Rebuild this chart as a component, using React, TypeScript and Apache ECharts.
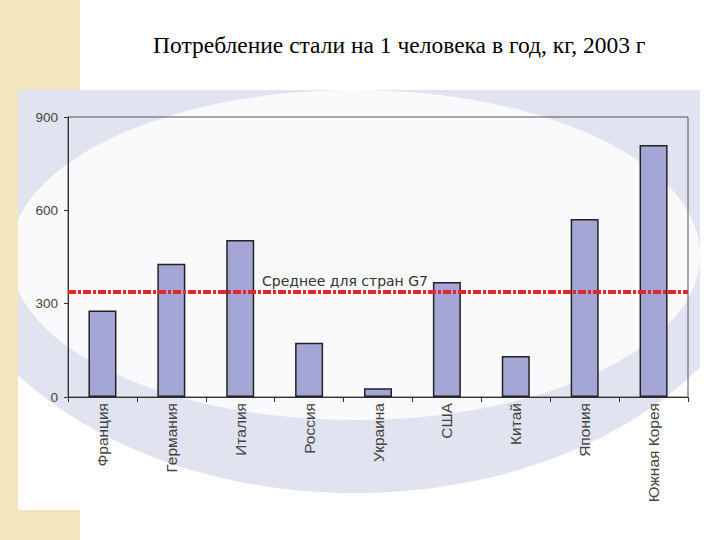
import React, { useEffect, useRef } from "react";
import * as echarts from "echarts";

const categories = ["Франция", "Германия", "Италия", "Россия", "Украина", "США", "Китай", "Япония", "Южная Корея"];
const values = [278, 428, 505, 174, 28, 370, 132, 572, 810];
const averageG7 = 338;
const averageLabel = "Среднее для стран G7";
const yTicks = { min: 0, max: 900, interval: 300 };
const titleText = "Потребление стали на 1 человека в год, кг, 2003 г";

export default function App() {
  const ref = useRef<HTMLDivElement>(null);
  useEffect(() => {
    if (!ref.current) return;
    const chart = echarts.init(ref.current, null, { renderer: "svg" });
    const lav = "#e1e3f1";
    const beige = "#f3e5bd";
    chart.setOption({
      animation: false,
      backgroundColor: "#ffffff",
      title: {
        text: titleText,
        left: 148,
        top: 28,
        textStyle: { fontFamily: "Liberation Serif", fontWeight: "normal", fontSize: 23.5, color: "#000" },
      },
      graphic: [
        { type: "rect", z: -20, shape: { x: 18, y: 90, width: 682, height: 420 }, style: { fill: "#ffffff" } },
        { type: "ellipse", z: -19, shape: { cx: 355, cy: 200, rx: 420, ry: 293 }, style: { fill: lav } },
        { type: "ellipse", z: -18, shape: { cx: 355, cy: 255, rx: 345, ry: 165 }, style: { fill: "#fafafd" } },
        { type: "rect", z: -17, shape: { x: 0, y: 0, width: 720, height: 90 }, style: { fill: "#ffffff" } },
        { type: "rect", z: -17, shape: { x: 700, y: 0, width: 20, height: 540 }, style: { fill: "#ffffff" } },
        { type: "rect", z: -17, shape: { x: 0, y: 510, width: 720, height: 30 }, style: { fill: "#ffffff" } },
        { type: "rect", z: -16, shape: { x: 0, y: 0, width: 80, height: 90 }, style: { fill: beige } },
        { type: "rect", z: -16, shape: { x: 0, y: 90, width: 18, height: 420 }, style: { fill: beige } },
        { type: "rect", z: -16, shape: { x: 0, y: 510, width: 80, height: 30 }, style: { fill: beige } },
      ],
      grid: {
        left: 68,
        top: 117,
        right: 32,
        bottom: 143,
        show: true,
        borderColor: "#555",
        borderWidth: 1,
        backgroundColor: "transparent",
      },
      xAxis: {
        type: "category",
        data: categories,
        axisLine: { lineStyle: { color: "#333", width: 1 } },
        axisTick: { show: true, length: 5, lineStyle: { color: "#333" } },
        axisLabel: {
          rotate: 90,
          margin: 6,
          interval: 0,
          fontFamily: "Liberation Sans",
          fontSize: 15.5,
          color: "#444",
        },
      },
      yAxis: {
        type: "value",
        min: yTicks.min,
        max: yTicks.max,
        interval: yTicks.interval,
        splitLine: { show: false },
        axisLine: { show: true, lineStyle: { color: "#333", width: 1 } },
        axisTick: { show: true, length: 4, lineStyle: { color: "#333" } },
        axisLabel: { margin: 10, fontFamily: "Liberation Sans", fontSize: 13.5, color: "#444" },
      },
      series: [
        {
          type: "bar",
          data: values,
          barWidth: 28,
          itemStyle: { color: "#a4a7d5", borderColor: "#222", borderWidth: 1.5 },
          markLine: {
            silent: true,
            symbol: "none",
            data: [{ yAxis: averageG7 }],
            lineStyle: { color: "#e2282f", width: 4, type: [8, 2, 3, 2] },
            label: {
              show: true,
              formatter: averageLabel,
              position: "insideStartTop",
              distance: [194, 4],
              fontFamily: "DejaVu Sans",
              fontSize: 14,
              color: "#333",
            },
          },
        },
      ],
    });
    return () => chart.dispose();
  }, []);
  return <div ref={ref} style={{ position: "absolute", left: 0, top: 0, width: 720, height: 540 }} />;
}
